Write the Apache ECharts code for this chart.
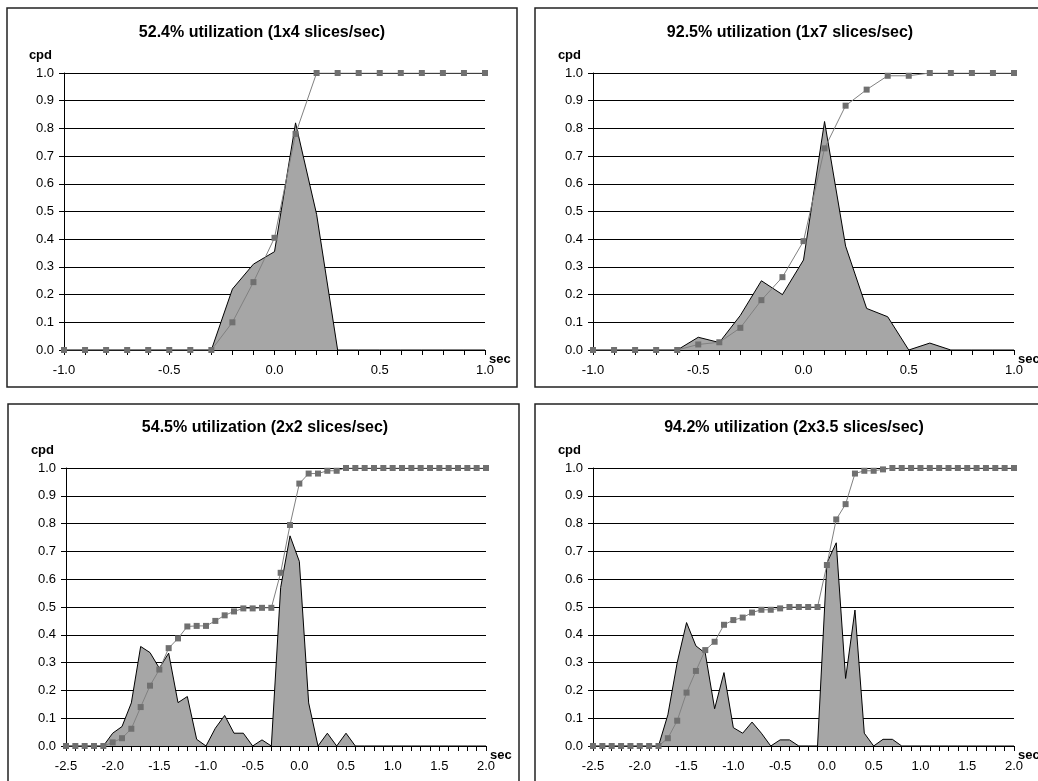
<!DOCTYPE html>
<html>
<head>
<meta charset="utf-8">
<title>cpd utilization</title>
<script src="https://cdn.jsdelivr.net/npm/echarts/dist/echarts.min.js"></script>
<style>
  html, body { margin: 0; padding: 0; background: #fff; }
  #main { width: 1038px; height: 781px; }
</style>
</head>
<body>
<div id="main"></div>
<script>
// x positions (sec)
const x_short = [-1.0, -0.9, -0.8, -0.7, -0.6, -0.5, -0.4, -0.3, -0.2, -0.1, 0.0,
  0.1, 0.2, 0.3, 0.4, 0.5, 0.6, 0.7, 0.8, 0.9, 1.0]
const x_long = [-2.5, -2.4, -2.3, -2.2, -2.1, -2.0, -1.9, -1.8, -1.7, -1.6, -1.5,
  -1.4, -1.3, -1.2, -1.1, -1.0, -0.9, -0.8, -0.7, -0.6, -0.5, -0.4, -0.3, -0.2,
  -0.1, 0.0, 0.1, 0.2, 0.3, 0.4, 0.5, 0.6, 0.7, 0.8, 0.9, 1.0, 1.1, 1.2, 1.3,
  1.4, 1.5, 1.6, 1.7, 1.8, 1.9, 2.0]

const titles = [
  '52.4% utilization (1x4 slices/sec)',
  '92.5% utilization (1x7 slices/sec)',
  '54.5% utilization (2x2 slices/sec)',
  '94.2% utilization (2x3.5 slices/sec)',
]

// 1x4
const dens1 = [0, 0, 0, 0, 0, 0, 0, 0, 0.22, 0.31, 0.355, 0.82, 0.49, 0, 0, 0, 0, 0, 0, 0, 0]
const cdf1 = [0, 0, 0, 0, 0, 0, 0, 0, 0.10, 0.245, 0.405, 0.78, 1, 1, 1, 1, 1, 1, 1, 1, 1]

// 1x7
const dens2 = [0, 0, 0, 0, 0, 0.046, 0.027, 0.125, 0.25, 0.2, 0.325, 0.825, 0.375, 0.15, 0.12, 0, 0.025, 0, 0, 0, 0]
const cdf2 = [0, 0, 0, 0, 0, 0.02, 0.028, 0.08, 0.18, 0.263, 0.393, 0.728, 0.882, 0.94, 0.99, 0.99, 1, 1, 1, 1, 1]

// 2x2
const dens3 = [0, 0, 0, 0, 0, 0.046, 0.07, 0.155, 0.358, 0.336, 0.28, 0.334, 0.156, 0.178,
  0.024, 0, 0.064, 0.11, 0.046, 0.046, 0, 0.022, 0, 0.57, 0.756, 0.664, 0.155, 0,
  0.046, 0, 0.046, 0, 0, 0, 0, 0, 0, 0, 0, 0, 0, 0, 0, 0, 0, 0]
const cdf3 = [0, 0, 0, 0, 0, 0.013, 0.028, 0.062, 0.14, 0.217, 0.275, 0.352, 0.387, 0.43,
  0.432, 0.432, 0.45, 0.47, 0.484, 0.495, 0.495, 0.497, 0.497, 0.623, 0.795, 0.944,
  0.98, 0.98, 0.99, 0.99, 1, 1, 1, 1, 1, 1, 1, 1, 1, 1, 1, 1, 1, 1, 1, 1]

// 2x3.5
const dens4 = [0, 0, 0, 0, 0, 0, 0, 0, 0.112, 0.3, 0.444, 0.36, 0.334, 0.134, 0.264,
  0.066, 0.046, 0.086, 0.046, 0, 0.022, 0.022, 0, 0, 0, 0.658, 0.731, 0.243, 0.489,
  0.046, 0, 0.024, 0.024, 0, 0, 0, 0, 0, 0, 0, 0, 0, 0, 0, 0, 0]
const cdf4 = [0, 0, 0, 0, 0, 0, 0, 0, 0.028, 0.091, 0.192, 0.27, 0.345, 0.375, 0.436,
  0.453, 0.462, 0.48, 0.49, 0.49, 0.495, 0.5, 0.5, 0.5, 0.5, 0.651, 0.815, 0.87,
  0.98, 0.99, 0.99, 0.995, 1, 1, 1, 1, 1, 1, 1, 1, 1, 1, 1, 1, 1, 1]

const font = "'Liberation Sans', Arial, sans-serif"

function pairs(xs, ys) {
  return xs.map((x, i) => [x, ys[i]])
}

// plot areas and panel frames
const grids = [
  { left: 64, top: 73, width: 421, height: 277 },
  { left: 593, top: 73, width: 421, height: 277 },
  { left: 66, top: 468, width: 420, height: 278 },
  { left: 593, top: 468, width: 421, height: 278 },
]
const frames = [
  [7, 8, 510, 379],
  [535, 8, 520, 379],
  [8, 404, 511, 400],
  [535, 404, 520, 400],
]
const titleX = [262, 790, 265, 794]
const titleY = [25, 25, 420, 420]

const panels = [
  { x: x_short, dens: dens1, cdf: cdf1, min: -1, max: 1 },
  { x: x_short, dens: dens2, cdf: cdf2, min: -1, max: 1 },
  { x: x_long, dens: dens3, cdf: cdf3, min: -2.5, max: 2 },
  { x: x_long, dens: dens4, cdf: cdf4, min: -2.5, max: 2 },
]

const black = { color: '#000', width: 1 }

const option = {
  animation: false,
  backgroundColor: '#fff',
  textStyle: { fontFamily: font },
  title: titles.map((t, i) => ({
    text: t,
    left: titleX[i],
    top: titleY[i],
    textAlign: 'center',
    padding: 0,
    textStyle: { fontFamily: font, fontSize: 16, fontWeight: 'bold', color: '#000' }
  })),
  grid: grids.map(g => Object.assign({ outerBoundsMode: 'none', containLabel: false }, g)),
  xAxis: panels.map((p, i) => ({
    type: 'value',
    gridIndex: i,
    min: p.min,
    max: p.max,
    interval: 0.5,
    name: 'sec',
    nameLocation: 'end',
    nameGap: 4,
    nameMoveOverlap: false,
    nameTextStyle: { fontFamily: font, fontSize: 13, fontWeight: 'bold', color: '#000',
      verticalAlign: 'top', padding: [3, 0, 0, 0] },
    axisLine: { show: true, onZero: false, lineStyle: black },
    axisTick: { show: true, length: 5, lineStyle: black },
    minorTick: { show: true, splitNumber: 5, length: 5, lineStyle: black },
    splitLine: { show: false },
    axisLabel: {
      margin: 14, fontSize: 13, color: '#000', fontFamily: font,
      formatter: v => v.toFixed(1)
    }
  })),
  yAxis: panels.map((p, i) => ({
    type: 'value',
    gridIndex: i,
    min: 0,
    max: 1,
    interval: 0.1,
    name: 'cpd',
    nameLocation: 'end',
    nameGap: 11,
    nameMoveOverlap: false,
    nameTextStyle: { fontFamily: font, fontSize: 13, fontWeight: 'bold', color: '#000',
      align: 'right', padding: [0, 12, 0, 0] },
    axisLine: { show: true, onZero: false, lineStyle: black },
    axisTick: { show: true, length: 5, lineStyle: black },
    splitLine: { show: true, lineStyle: black },
    axisLabel: {
      margin: 10, fontSize: 13, color: '#000', fontFamily: font,
      formatter: v => v.toFixed(1)
    }
  })),
  series: [],
  graphic: frames.map(f => ({
    type: 'rect',
    shape: { x: f[0], y: f[1], width: f[2], height: f[3] },
    style: { fill: 'none', stroke: '#222', lineWidth: 1.5 },
    silent: true
  }))
}

panels.forEach((p, i) => {
  // density (filled area)
  option.series.push({
    type: 'line',
    xAxisIndex: i,
    yAxisIndex: i,
    data: pairs(p.x, p.dens),
    symbol: 'none',
    lineStyle: { color: '#000', width: 1 },
    areaStyle: { color: '#a6a6a6', opacity: 1 },
    z: 2
  })
  // cumulative
  option.series.push({
    type: 'line',
    xAxisIndex: i,
    yAxisIndex: i,
    data: pairs(p.x, p.cdf),
    symbol: 'rect',
    symbolSize: 6,
    lineStyle: { color: '#808080', width: 1 },
    itemStyle: { color: '#707070' },
    z: 3
  })
})

const my_echart = echarts.init(document.getElementById('main'), null, { renderer: 'canvas' })
my_echart.setOption(option)
</script>
</body>
</html>
